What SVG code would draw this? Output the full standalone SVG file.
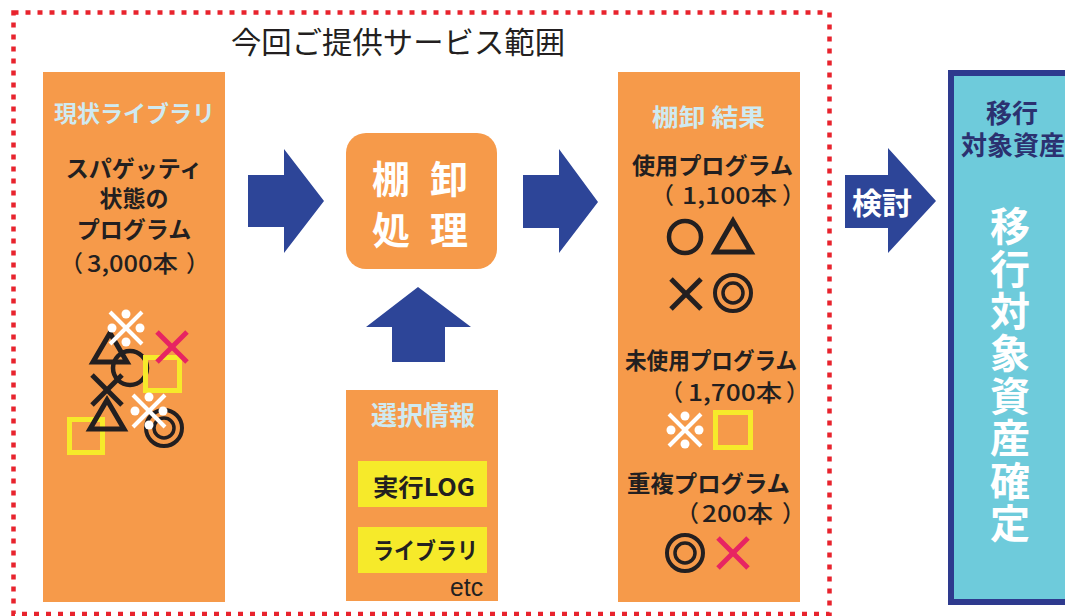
<svg xmlns="http://www.w3.org/2000/svg" xmlns:xlink="http://www.w3.org/1999/xlink" width="1065" height="616" viewBox="0 0 1065 616">
<style>
.jp{font-family:"Noto Sans CJK JP","Noto Sans CJK SC",sans-serif}
.b{font-weight:700}
.m{font-weight:500;font-size:23px}
.lb{fill:#cfeaf1}
.bk{fill:#231f20}
.wh{fill:#ffffff}
.or{fill:#f69a4a}
.ar{fill:#2d4598}
.blk{stroke:#231f20;fill:none}
.ylw{stroke:#f6ea2a;fill:none;stroke-width:5}
.red{stroke:#e72462;stroke-width:5}
</style>
<defs>
<g id="kome">
<line x1="-16" y1="-16" x2="16" y2="16" stroke="#fff" stroke-width="4"/>
<line x1="16" y1="-16" x2="-16" y2="16" stroke="#fff" stroke-width="4"/>
<circle cx="0" cy="-14" r="4.5" fill="#fff"/>
<circle cx="-14" cy="0" r="4.5" fill="#fff"/>
<circle cx="14" cy="0" r="4.5" fill="#fff"/>
<circle cx="0" cy="14" r="4.5" fill="#fff"/>
</g>
<g id="dbl">
<circle cx="0" cy="0" r="18" stroke="#231f20" stroke-width="4" fill="none"/>
<circle cx="0" cy="0" r="10" stroke="#231f20" stroke-width="3.5" fill="none"/>
</g>
<path id="tri" d="M0,-15 L17,14 L-17,14 Z" stroke="#231f20" stroke-width="5" fill="none" stroke-linejoin="miter"/>
<g id="cross">
<line x1="-15" y1="-15" x2="15" y2="15"/>
<line x1="15" y1="-15" x2="-15" y2="15"/>
</g>
</defs>
<rect width="1065" height="616" fill="#ffffff"/>

<g id="scope">
<rect x="13.5" y="12.5" width="816" height="601.5" fill="none" stroke="#e8232d" stroke-width="4.5" stroke-dasharray="5 7"/>
<text class="jp bk" x="231" y="53" font-size="30" textLength="334" lengthAdjust="spacingAndGlyphs">今回ご提供サービス範囲</text>
</g>

<g id="current-library">
<rect class="or" x="43" y="72" width="182" height="530"/>
<text class="jp b lb" x="54" y="122" font-size="23" textLength="161" lengthAdjust="spacingAndGlyphs">現状ライブラリ</text>
<text class="jp b bk" x="134" y="177" font-size="23" text-anchor="middle">スパゲッティ</text>
<text class="jp b bk" x="134" y="207" font-size="23" text-anchor="middle">状態の</text>
<text class="jp b bk" x="134" y="238" font-size="23" text-anchor="middle">プログラム</text>
<text class="jp m bk" y="272"><tspan x="60">（</tspan><tspan x="87" textLength="91" lengthAdjust="spacingAndGlyphs">3,000本</tspan><tspan x="186">）</tspan></text>
<rect class="ylw" x="69.5" y="419.5" width="33" height="33"/>
<use xlink:href="#tri" transform="translate(110,348)"/>
<circle class="blk" cx="130" cy="368" r="17" stroke-width="4.5"/>
<use xlink:href="#tri" transform="translate(107,415)"/>
<use xlink:href="#cross" transform="translate(107,390)" stroke="#231f20" stroke-width="5"/>
<rect class="ylw" x="145.5" y="357.5" width="34" height="33"/>
<use xlink:href="#cross" transform="translate(172,347)" class="red"/>
<use xlink:href="#dbl" transform="translate(164,428)"/>
<use xlink:href="#kome" transform="translate(126,328)"/>
<use xlink:href="#kome" transform="translate(149,411)"/>
</g>

<g id="inventory-process">
<rect class="or" x="346" y="133" width="151" height="136" rx="20" ry="20"/>
<text class="jp b wh" x="391 449" y="192.5" font-size="38" text-anchor="middle">棚卸</text>
<text class="jp b wh" x="391 449" y="243.5" font-size="38" text-anchor="middle">処理</text>
</g>

<g id="selection-info">
<rect class="or" x="346" y="390" width="152" height="211"/>
<text class="jp b lb" x="423" y="425" font-size="26" text-anchor="middle">選択情報</text>
<rect x="358" y="461" width="129" height="46" fill="#f6ea2a"/>
<text class="jp b bk" x="373" y="496" font-size="24" textLength="102" lengthAdjust="spacingAndGlyphs">実行LOG</text>
<rect x="358" y="527" width="129" height="46" fill="#f6ea2a"/>
<text class="jp b bk" x="373" y="559" font-size="23" textLength="105" lengthAdjust="spacingAndGlyphs">ライブラリ</text>
<text x="450" y="596" font-family="Liberation Sans, sans-serif" font-size="26" fill="#231f20" textLength="33" lengthAdjust="spacingAndGlyphs">etc</text>
</g>

<g id="inventory-result">
<rect class="or" x="618" y="72" width="182" height="530"/>
<text class="jp b lb" x="652" y="126" font-size="24" textLength="113" lengthAdjust="spacingAndGlyphs">棚卸 結果</text>
<text class="jp b bk" x="632" y="174" font-size="23" textLength="161" lengthAdjust="spacingAndGlyphs">使用プログラム</text>
<text class="jp m bk" y="204"><tspan x="651">（</tspan><tspan x="682" textLength="95" lengthAdjust="spacingAndGlyphs">1,100本</tspan><tspan x="782">）</tspan></text>
<circle class="blk" cx="685" cy="237" r="16" stroke-width="4.5"/>
<path d="M733,221 L751,252 L715,252 Z" stroke="#231f20" stroke-width="5" fill="none"/>
<use xlink:href="#cross" transform="translate(686,294)" stroke="#231f20" stroke-width="5"/>
<use xlink:href="#dbl" transform="translate(733,293)"/>
<text class="jp b bk" x="625" y="369" font-size="23" textLength="172" lengthAdjust="spacingAndGlyphs">未使用プログラム</text>
<text class="jp m bk" y="401"><tspan x="660">（</tspan><tspan x="688" textLength="94" lengthAdjust="spacingAndGlyphs">1,700本</tspan><tspan x="786">）</tspan></text>
<use xlink:href="#kome" transform="translate(685,430)"/>
<rect class="ylw" x="715.5" y="412.5" width="35" height="35"/>
<text class="jp b bk" x="627" y="492" font-size="23" textLength="163" lengthAdjust="spacingAndGlyphs">重複プログラム</text>
<text class="jp m bk" y="522"><tspan x="676">（</tspan><tspan x="702" textLength="71" lengthAdjust="spacingAndGlyphs">200本</tspan><tspan x="782">）</tspan></text>
<use xlink:href="#dbl" transform="translate(685,553)"/>
<use xlink:href="#cross" transform="translate(733,553)" class="red"/>
</g>

<g id="migration-assets">
<rect x="951" y="73" width="130" height="529" fill="#6ecbdb" stroke="#2e3a8e" stroke-width="6"/>
<text class="jp b" x="1012" y="123" font-size="26" text-anchor="middle" fill="#2b3170">移行</text>
<text class="jp b" x="1013" y="155" font-size="26" text-anchor="middle" fill="#2b3170">対象資産</text>
<text class="jp b wh" x="1010" y="206" font-size="40" writing-mode="vertical-rl" letter-spacing="2.4">移行対象資産確定</text>
</g>

<g id="connectors">
<polygon class="ar" points="248,175 284,175 284,149 324,201 284,253 284,227 248,227"/>
<polygon class="ar" points="523,175 559,175 559,149 598,202 559,253 559,228 523,228"/>
<polygon class="ar" points="392,362 392,327 366,327 418,287 471,327 445,327 445,362"/>
<polygon class="ar" points="845,175 888,175 888,148 936,201 888,253 888,228 845,228"/>
<text class="jp b wh" x="852" y="214" font-size="30" textLength="60" lengthAdjust="spacingAndGlyphs">検討</text>
</g>
</svg>
